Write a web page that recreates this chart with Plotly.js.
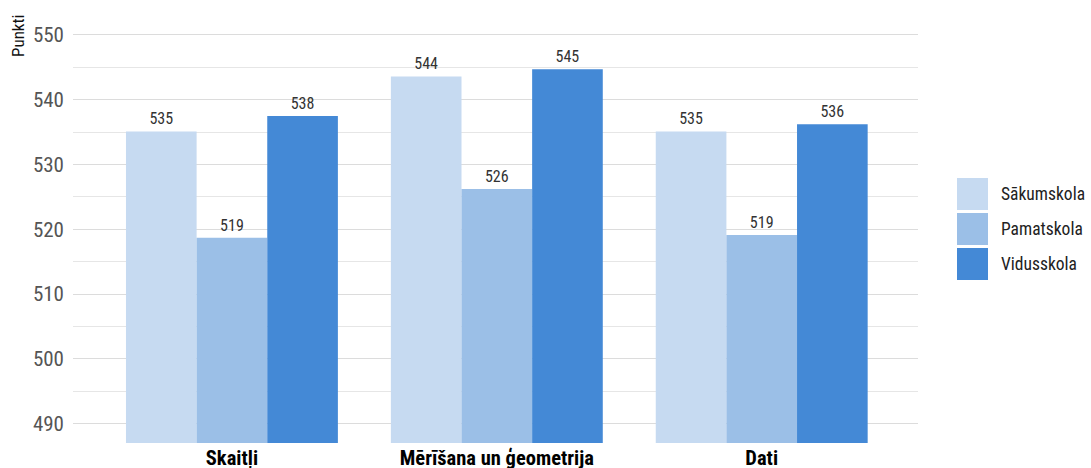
<!DOCTYPE html>
<html>
<head>
<meta charset="utf-8">
<script src="https://cdn.plot.ly/plotly-3.0.1.min.js"></script>
<style>html,body{margin:0;padding:0;background:#fff;}#chart{width:1091px;height:468px;}</style>
</head>
<body>
<div id="chart"></div>
<script>
const categories = ["Skaitļi", "Mērīšana un ģeometrija", "Dati"];
const seriesNames = ["Sākumskola", "Pamatskola", "Vidusskola"];
const sakumskola = [535.1, 543.6, 535.1];
const pamatskola = [518.7, 526.2, 519.1];
const vidusskola = [537.5, 544.7, 536.2];
const seriesValues = [sakumskola, pamatskola, vidusskola];
const colors = ["#c6daf1", "#9bbfe7", "#4489d6"];
const yTitle = "Punkti";
const FONT = "Roboto Condensed, Roboto, sans-serif";

const traces = seriesValues.map((vals, i) => ({
  type: "bar",
  name: seriesNames[i],
  x: categories,
  y: vals,
  marker: {color: colors[i]},
  text: vals.map(v => Math.round(v).toString()),
  textposition: "outside",
  textfont: {family: FONT, size: 16, color: "#333"},
  cliponaxis: false,
  showlegend: false,
  hoverinfo: "none"
}));

// custom legend (large swatches) built from series names
const shapes = [];
const annotations = [];
const pxToPaperX = px => (px - 73) / 845;
const pxToPaperY = py => (443 - py) / 421;
const legendTops = [178, 213, 248];
seriesNames.forEach((n, i) => {
  const top = legendTops[i];
  shapes.push({type: "rect", xref: "paper", yref: "paper",
    x0: pxToPaperX(957), x1: pxToPaperX(988),
    y0: pxToPaperY(top + 32), y1: pxToPaperY(top),
    fillcolor: colors[i], line: {width: 0}});
  annotations.push({xref: "paper", yref: "paper", x: pxToPaperX(999), y: pxToPaperY(top + 16),
    xanchor: "left", yanchor: "middle", text: n, showarrow: false,
    font: {family: FONT, size: 17.5, color: "#222"}});
});
annotations.push({xref: "paper", yref: "paper", x: pxToPaperX(18), y: pxToPaperY(36),
  xanchor: "center", yanchor: "middle", text: yTitle, textangle: -90, showarrow: false,
  font: {family: FONT, size: 17, color: "#111"}});

const layout = {
  width: 1091, height: 468,
  margin: {l: 73, r: 173, t: 22, b: 25, pad: 0},
  paper_bgcolor: "#fff", plot_bgcolor: "#fff",
  barmode: "group", bargap: 0.2, bargroupgap: 0,
  showlegend: false,
  xaxis: {
    range: [-0.6, 2.59], showgrid: false, zeroline: false, showline: false,
    ticks: "", ticklabelstandoff: 0,
    tickfont: {family: FONT, size: 20.5, color: "#000", weight: "bold"},
    fixedrange: true
  },
  yaxis: {
    range: [487, 552], dtick: 10, tick0: 490, showgrid: true, gridcolor: "#dcdcdc", gridwidth: 1,
    minor: {dtick: 5, showgrid: true, gridcolor: "#e6e6e6", gridwidth: 1},
    zeroline: false, showline: false, ticks: "", ticklabelstandoff: 8,
    tickfont: {family: FONT, size: 21, color: "#555"},
    fixedrange: true
  },
  shapes: shapes,
  annotations: annotations
};

Plotly.newPlot("chart", traces, layout, {displayModeBar: false, staticPlot: true});
</script>
</body>
</html>
